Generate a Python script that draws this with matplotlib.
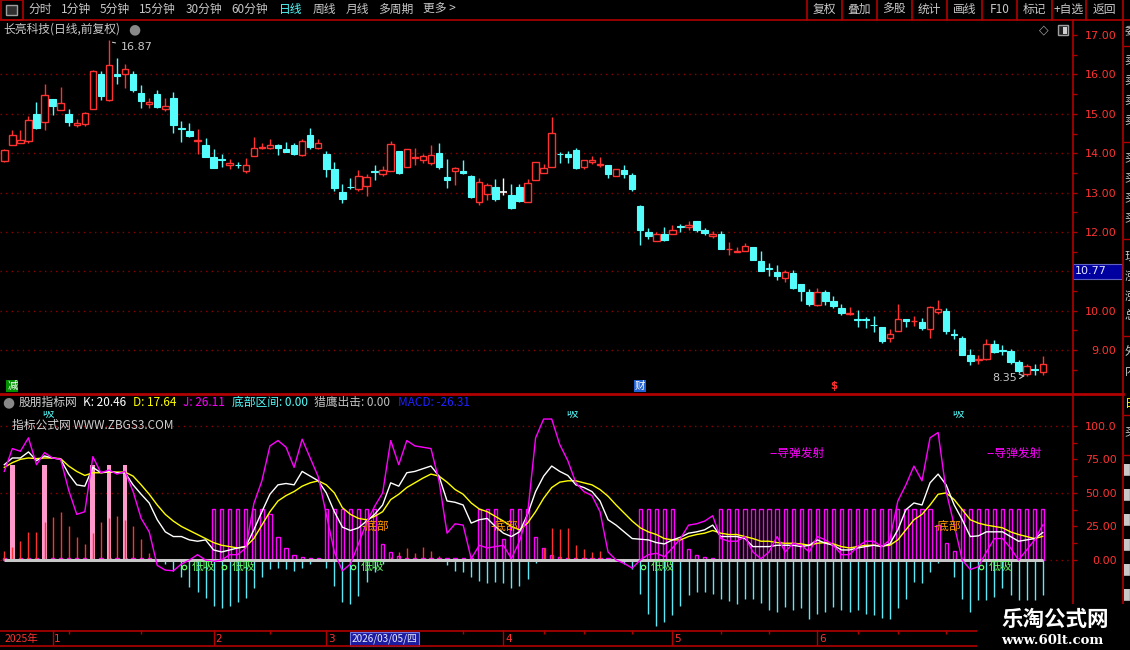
import matplotlib
matplotlib.use('Agg')
import matplotlib.pyplot as plt
from matplotlib.patches import Rectangle
from matplotlib.lines import Line2D

plt.rcParams['font.family'] = ['Noto Sans CJK SC', 'DejaVu Sans']

W, H = 1130, 650
RED = '#FF3232'
LINE_RED = '#B00000'
GRID_RED = '#8C0000'
CYAN = '#54FCFC'
GREY = '#C8C8C8'
MAGENTA = '#FF00FF'

# ---------------- daily candles ----------------
opens = [13.81, 14.22, 14.27, 14.32, 14.99, 14.78, 15.37, 15.09, 14.99, 14.71,
         14.75, 15.13, 16.01, 15.36, 16.02, 16.02, 16.01, 15.52, 15.24, 15.50,
         15.13, 15.40, 14.64, 14.56, 14.30, 14.20, 13.90, 13.86, 13.70, 13.70,
         13.56, 13.94, 14.14, 14.14, 14.20, 14.10, 14.20, 13.96, 14.46, 14.14,
         13.99, 13.59, 13.01, 13.14, 13.09, 13.18, 13.54, 13.46, 13.56, 14.05,
         13.66, 13.89, 13.84, 13.74, 14.01, 13.40, 13.54, 13.55, 13.43, 12.75,
         12.97, 13.14, 13.02, 12.93, 13.14, 12.77, 13.31, 13.51, 13.66, 13.99,
         13.99, 14.08, 13.66, 13.77, 13.71, 13.70, 13.41, 13.57, 13.44, 12.65,
         11.99, 11.78, 11.94, 11.94, 12.14, 12.12, 12.27, 12.06, 11.90, 11.96,
         11.57, 11.48, 11.51, 11.63, 11.27, 11.07, 10.99, 10.84, 10.96, 10.68,
         10.48, 10.15, 10.48, 10.25, 10.07, 9.92, 9.79, 9.79, 9.65, 9.58,
         9.32, 9.49, 9.79, 9.73, 9.71, 9.54, 9.98, 9.99, 9.40, 9.30,
         8.89, 8.76, 8.78, 9.15, 9.00, 8.97, 8.69, 8.39, 8.52, 8.44]
highs = [14.11, 14.59, 14.59, 14.95, 15.30, 15.75, 15.37, 15.68, 15.12, 14.86,
         15.04, 16.11, 16.09, 16.87, 16.42, 16.26, 16.08, 15.73, 15.40, 15.60,
         15.39, 15.55, 14.81, 14.76, 14.61, 14.38, 14.10, 13.99, 13.85, 13.77,
         13.88, 14.41, 14.25, 14.36, 14.23, 14.28, 14.27, 14.36, 14.65, 14.36,
         14.05, 13.77, 13.21, 13.36, 13.58, 13.47, 13.70, 13.68, 14.31, 14.05,
         14.10, 14.14, 13.97, 14.22, 14.27, 13.86, 13.65, 13.83, 13.45, 13.37,
         13.25, 13.35, 13.37, 13.22, 13.22, 13.35, 13.77, 13.73, 14.93, 14.02,
         14.06, 14.13, 13.83, 13.93, 13.91, 13.70, 13.60, 13.71, 13.49, 12.68,
         12.09, 12.01, 12.12, 12.19, 12.21, 12.29, 12.27, 12.11, 12.03, 12.03,
         11.75, 11.63, 11.73, 11.63, 11.52, 11.22, 11.17, 11.03, 11.04, 10.68,
         10.55, 10.58, 10.53, 10.38, 10.17, 10.10, 10.02, 9.85, 9.86, 9.58,
         9.53, 10.17, 9.79, 9.86, 9.81, 10.11, 10.27, 10.06, 9.53, 9.35,
         9.02, 8.87, 9.28, 9.25, 9.12, 9.02, 8.74, 8.64, 8.66, 8.84]
lows = [13.78, 14.22, 14.25, 14.25, 14.62, 14.60, 14.97, 15.09, 14.70, 14.67,
        14.70, 15.11, 15.35, 15.32, 15.76, 15.66, 15.56, 15.15, 15.16, 15.15,
        15.08, 14.52, 14.29, 14.42, 13.99, 13.91, 13.63, 13.65, 13.60, 13.62,
        13.50, 13.94, 14.10, 14.10, 13.95, 14.03, 13.95, 13.93, 14.10, 14.10,
        13.39, 13.04, 12.74, 13.08, 13.04, 12.91, 13.32, 13.43, 13.55, 13.48,
        13.66, 13.71, 13.74, 13.70, 13.61, 13.12, 13.20, 13.46, 12.86, 12.69,
        12.81, 12.79, 12.94, 12.58, 12.76, 12.77, 13.31, 13.51, 13.66, 13.76,
        13.76, 13.61, 13.60, 13.73, 13.66, 13.38, 13.41, 13.38, 13.03, 11.67,
        11.81, 11.78, 11.77, 11.94, 12.00, 12.06, 12.00, 11.92, 11.86, 11.56,
        11.42, 11.48, 11.51, 11.28, 11.02, 10.89, 10.79, 10.74, 10.56, 10.26,
        10.13, 10.13, 10.15, 10.08, 9.90, 9.89, 9.59, 9.57, 9.46, 9.18,
        9.21, 9.49, 9.58, 9.61, 9.52, 9.31, 9.92, 9.40, 9.29, 8.89,
        8.62, 8.65, 8.75, 8.92, 8.89, 8.66, 8.43, 8.35, 8.37, 8.37]
closes = [14.09, 14.47, 14.33, 14.84, 14.64, 15.47, 15.20, 15.27, 14.80, 14.76,
          15.02, 16.09, 15.46, 16.25, 15.97, 16.13, 15.61, 15.33, 15.30, 15.18,
          15.21, 14.72, 14.62, 14.44, 14.33, 13.91, 13.63, 13.84, 13.76, 13.69,
          13.69, 14.14, 14.17, 14.20, 14.14, 14.03, 13.98, 14.30, 14.16, 14.27,
          13.60, 13.12, 12.84, 13.13, 13.43, 13.39, 13.52, 13.57, 14.23, 13.51,
          14.10, 13.91, 13.94, 13.95, 13.66, 13.31, 13.62, 13.50, 12.89, 13.27,
          13.19, 12.85, 13.02, 12.61, 12.79, 13.24, 13.77, 13.62, 14.52, 13.97,
          13.91, 13.63, 13.83, 13.83, 13.73, 13.46, 13.60, 13.46, 13.08, 12.06,
          11.90, 11.96, 11.80, 12.04, 12.12, 12.19, 12.05, 11.97, 11.96, 11.56,
          11.58, 11.52, 11.65, 11.29, 11.02, 11.06, 10.89, 10.99, 10.59, 10.49,
          10.18, 10.48, 10.26, 10.12, 9.95, 9.94, 9.77, 9.77, 9.63, 9.23,
          9.40, 9.79, 9.73, 9.75, 9.56, 10.09, 10.04, 9.49, 9.38, 8.89,
          8.72, 8.78, 9.15, 8.95, 8.99, 8.69, 8.47, 8.61, 8.50, 8.64]

# ---------------- indicator panel ----------------
k_line = [71, 76, 76, 80.5, 74, 77.5, 76, 75, 64, 56,
          55, 69, 65, 66, 65, 65, 56, 49, 42.5, 30,
          21, 17.5, 17.5, 15, 14, 15, 7.5, 6, 7.5, 9,
          10, 22.5, 36, 49, 56, 57, 56, 66, 62.5, 59,
          50, 36, 24.5, 22, 24, 29, 34, 41, 57.5, 55,
          65, 66, 68, 70, 62.5, 44, 43, 41, 27.5, 30,
          31, 25, 20, 17.5, 21, 34, 51, 62.5, 70, 66,
          63, 56, 54, 51, 44, 30, 26, 21, 16, 15.5,
          15, 13, 12, 15, 17, 20, 21, 22.5, 26, 17.5,
          17.5, 17.5, 16, 10, 10, 10, 11, 11, 11, 10,
          11, 15, 12.5, 11, 7.5, 7.5, 9, 10, 11, 10,
          12, 22.5, 37.5, 42.5, 41, 57.5, 64, 56, 41, 30,
          17.5, 18, 21, 21, 21, 17.5, 14, 15, 16, 20.46]
d_line = [69, 72.5, 75, 76, 75.5, 76, 76, 75.5, 70, 66,
          63, 65, 65, 65.5, 65.5, 65.5, 62.5, 56, 49, 41,
          34, 29, 25, 22, 19, 16, 13, 11, 10, 9,
          10, 16, 26, 36, 44, 48, 51, 55, 57.5, 59,
          56, 50, 39, 34, 31, 30, 32.5, 36, 45, 49,
          54, 57.5, 61, 64, 62.5, 58, 52.5, 49, 42.5, 38,
          36, 32.5, 29, 25, 22.5, 27.5, 36, 46, 54, 58,
          59, 59, 57.5, 56, 52.5, 47.5, 41, 35, 29, 24,
          21, 19, 16, 15, 15, 17.5, 19, 20, 22, 20,
          19, 19, 17.5, 16, 14, 14, 13, 12.5, 12.5, 12,
          11, 12.5, 13, 12, 10, 9, 10, 11, 11, 10.5,
          11, 15, 22.5, 30, 34, 41, 49, 50, 45, 37.5,
          30, 27.5, 26, 25, 24, 21, 19, 17.5, 16, 17.64]
j_line = [66, 83, 81, 91, 71, 80, 76, 75, 52, 34,
          36, 77, 65, 67, 64, 66, 51, 31, 21, -4,
          -7.5, -8, -3, 0, 4, 0, -1, 0, 4, 4,
          9, 42, 59, 85, 89, 84, 69, 90, 76, 62,
          34, 6, -8, -3, 12, 28, 40, 50, 89, 71,
          89, 85, 84, 83, 59, 20, 27, 26, 1, 11,
          9, 10, 11, 1, 14, 34, 91, 105, 105, 86,
          74, 57.5, 51, 48, 36, 6, 0, -2.5, -6, 0,
          4, 5, 2.5, 9, 16, 26, 27, 29, 33, 16,
          14, 14, 17.5, 6, 1, 6, 17.5, 6, 12.5, 11,
          6, 17.5, 15, 11, 4, 4, 10, 14, 14, 10,
          15, 44, 56, 70, 59, 91, 95, 51, 26, 0,
          -7, -5, 6, 16, 16, 9, 0, 7.5, 15, 26.11]
macd = [7, 10, 14, 21, 21, 28, 32, 36, 25, 17,
        12, 20, 28.5, 31, 33, 30, 25.5, 16, 5, 0.5,
        -3, -8, -13, -20, -24, -28, -34.5, -36, -34, -31,
        -28, -21, -13, -7, -6, -7, -8, -6, -3, -1,
        -6, -19, -31, -33, -27, -16, -9, -3, 2, 6,
        9, 5, 10, 7, 3, -4, -8, -9, -12.5, -15.5,
        -17, -16, -17, -21, -19, -14, -2, 9, 24, 23,
        24, 11, 8, 6, 7, 1, 0, -3, -7, -25,
        -40, -49, -46, -41, -34, -26, -24, -24, -25, -29,
        -30.5, -32.5, -29, -29, -32, -37.5, -39, -35, -37, -36,
        -44, -40, -39, -35, -37, -39, -37, -40, -41, -43,
        -44, -35.5, -29, -16, -17, -9, -2.5, 0, -13, -29,
        -39, -30, -30, -27.5, -21, -26, -30, -30, -30, -26.31]
zone = [0.8, 0.8, 0.8, 0.8, 0.8, 0.8, 0.8, 0.8, 0.8, 0.8,
        0.8, 0.8, 0.8, 0.8, 0.8, 0.8, 0.8, 0.8, 0.8, 0,
        0, 0, 0, 0, 0, 0, 38, 38, 38, 38,
        38, 38, 38, 34, 17, 9, 4, 2, 1, 0.8,
        38, 38, 38, 38, 38, 38, 38, 12, 6, 3,
        1.5, 0.8, 0.8, 0.8, 0.8, 0.8, 0.8, 0.8, 0.8, 38,
        38, 38, 16, 38, 38, 38, 17, 9, 4, 2,
        1, 0.8, 0.8, 0.8, 0.8, 0.8, 0, 0, 0, 38,
        38, 38, 38, 38, 16, 8, 4, 2, 1, 38,
        38, 38, 38, 38, 38, 38, 38, 38, 38, 38,
        38, 38, 38, 38, 38, 38, 38, 38, 38, 38,
        38, 38, 38, 38, 38, 38, 26, 13, 7, 38,
        38, 38, 38, 38, 38, 38, 38, 38, 38, 38]
pink_idx = [1, 5, 11, 13, 15]
pink_val = [71, 71, 71, 71, 71]
dixi_idx = [22, 27, 43, 79, 121]       # 低吸
dibu_idx = [44, 60, 115]               # 底部
daodan_idx = [95, 122]                 # 导弹发射
xi_idx = [4, 69, 117]                  # 吸

# date axis
month_idx = [6, 26, 40, 62, 83, 101]
month_lbl = ['1', '2', '3', '4', '5', '6']
week_ticks = [8, 17, 33, 48, 57, 67, 72, 78, 89, 95, 106, 111, 117]
cursor_idx = 43

n = len(opens)
X0, DX = 4.3, 8.05          # pixel x of first candle, pixel step
XL = (-X0 / DX, (1072 - X0) / DX)

fig = plt.figure(figsize=(W / 100, H / 100), dpi=100, facecolor='black')


def px_axes(x0, y0, x1, y1):
    a = fig.add_axes([x0 / W, 1 - y1 / H, (x1 - x0) / W, (y1 - y0) / H])
    a.set_facecolor('black')
    for s in a.spines.values():
        s.set_visible(False)
    return a


def ftext(x, y, s, color=GREY, size=8.5, ha='left', va='center', **kw):
    return fig.text(x / W, 1 - y / H, s, color=color, fontsize=size, ha=ha, va=va, **kw)


def hline(y, x0, x1, lw=1.2, color=LINE_RED):
    fig.add_artist(Line2D([x0 / W, x1 / W], [1 - y / H, 1 - y / H], color=color, lw=lw,
                          transform=fig.transFigure))


def vline(x, y0, y1, lw=1.2, color=LINE_RED):
    fig.add_artist(Line2D([x / W, x / W], [1 - y0 / H, 1 - y1 / H], color=color, lw=lw,
                          transform=fig.transFigure))


# ---------------- main price panel ----------------
ax = px_axes(0, 20, 1072, 394)
ax.set_xlim(XL)
ax.set_ylim(7.888, 17.381)
for p in range(9, 17):
    ax.axhline(p, color=GRID_RED, lw=1, ls=(0, (1, 3)))

bw = 0.8
for i in range(n):
    o, h, l, c = opens[i], highs[i], lows[i], closes[i]
    top, bot = max(o, c), min(o, c)
    if c > o:
        ax.vlines(i, top, h, color=RED, lw=1)
        ax.vlines(i, l, bot, color=RED, lw=1)
        ax.add_patch(Rectangle((i - bw / 2, bot), bw, top - bot, facecolor='black',
                               edgecolor=RED, lw=1, zorder=3))
    elif c < o:
        ax.vlines(i, l, h, color=CYAN, lw=1)
        ax.add_patch(Rectangle((i - bw / 2, bot), bw, max(top - bot, 0.02),
                               facecolor=CYAN, edgecolor=CYAN, lw=0.8, zorder=3))
    else:
        ax.vlines(i, l, h, color='white', lw=1)
        ax.hlines(c, i - bw / 2, i + bw / 2, color='white', lw=1.2)

ax.set_xticks([])
ax.yaxis.tick_right()
ax.set_yticks(range(9, 18))
# the 11.00 label sits under the cursor price box
ax.set_yticklabels(['' if v == 11 else f'{v:.2f}' for v in range(9, 18)], family='DejaVu Sans')
ax.set_yticks([v + 0.5 for v in range(8, 17)], minor=True)
ax.tick_params(axis='y', which='both', color=LINE_RED, labelcolor=RED, length=3.5,
               width=1, labelsize=8, pad=28.5)
for lab in ax.get_yticklabels():
    lab.set_horizontalalignment('right')

# high / low marks
hi = highs.index(max(highs))
lo = lows.index(min(lows))
ax.annotate(f'{highs[hi]:.2f}', xy=(hi + 0.1, highs[hi] - 0.04), xytext=(hi + 1.5, highs[hi] - 0.18),
            color=GREY, fontsize=8, va='center', family='DejaVu Sans',
            arrowprops=dict(arrowstyle='-', color=GREY, lw=0.8))
ax.annotate(f'{lows[lo]:.2f}', xy=(lo - 0.2, lows[lo]), xytext=(lo - 4.3, lows[lo] - 0.05),
            color=GREY, fontsize=8, va='center', family='DejaVu Sans',
            arrowprops=dict(arrowstyle='->', color=GREY, lw=0.8))

# event flags along the bottom of the price panel
bx = ax.get_xaxis_transform()
ax.text(1, 0.022, '减', transform=bx, ha='center', va='center', color='white', fontsize=7.5,
        bbox=dict(facecolor='#009000', edgecolor='none', pad=0.6))
ax.text(79, 0.022, '财', transform=bx, ha='center', va='center', color='white', fontsize=7.5,
        bbox=dict(facecolor='#2060D0', edgecolor='none', pad=0.6))
ax.text(103, 0.022, '$', transform=bx, ha='center', va='center', color=RED, fontsize=7.5,
        fontweight='bold', family='DejaVu Sans')

# ---------------- indicator panel ----------------
ax2 = px_axes(0, 395, 1072, 630)
ax2.set_xlim(XL)
ax2.set_ylim(-52.1, 122.9)
for v in (100, 50, 0):
    ax2.axhline(v, color=GRID_RED, lw=1, ls=(0, (1, 3)))

for i, v in enumerate(zone):
    if v > 0:
        ax2.add_patch(Rectangle((i - 0.2, 0), 0.4, max(v, 1.2), fill=False,
                                edgecolor=MAGENTA, lw=1.0, zorder=2))
ax2.bar(pink_idx, pink_val, width=0.6, color='#FF99CC', zorder=2)
ax2.vlines(range(n), 0, macd, colors=[RED if v > 0 else '#5CE8F4' for v in macd], lw=1, zorder=2)
ax2.plot([0, n - 1], [0, 0], color='#C8C8C8', lw=2.2, zorder=3, solid_capstyle='butt')
ax2.plot(range(n), d_line, color='#FFFF00', lw=1, zorder=4)
ax2.plot(range(n), k_line, color='white', lw=1, zorder=5)
ax2.plot(range(n), j_line, color=MAGENTA, lw=1, zorder=6)

for i in dixi_idx:
    ax2.plot(i + 0.35, -5, marker='o', ms=3.2, mfc='none', mec='#66FF66', mew=0.9, zorder=7)
    ax2.text(i + 1.3, -4.5, '低吸', color='#66FF66', fontsize=8.5, va='center', zorder=7)
for i in dibu_idx:
    ax2.text(i + 0.4, 25.3, '-底部', color='#FF9900', fontsize=8.5, va='center', zorder=7)
for i in daodan_idx:
    ax2.text(i, 79.7, '--导弹发射', color=MAGENTA, fontsize=8.5, va='center', zorder=7)
for i in xi_idx:
    ax2.text(i, 109, '° 吸', color=CYAN, fontsize=8.5, va='center', zorder=7)

ax2.set_xticks([])
ax2.yaxis.tick_right()
ax2.set_yticks([0, 25, 50, 75, 100])
ax2.set_yticklabels(['0.00', '25.00', '50.00', '75.00', '100.0'], family='DejaVu Sans')
ax2.set_yticks([12.5, 37.5, 62.5, 87.5], minor=True)
ax2.tick_params(axis='y', which='both', color=LINE_RED, labelcolor=RED, length=3.5,
                width=1, labelsize=8, pad=28.5)
for lab in ax2.get_yticklabels():
    lab.set_horizontalalignment('right')

# header band of the indicator panel hides what runs above it
fig.add_artist(Rectangle((0, 1 - 411 / H), 1072 / W, 16 / H, transform=fig.transFigure,
                         facecolor='black', edgecolor='none', zorder=1))

# ---------------- date axis ----------------
ax3 = px_axes(0, 630, 1072, 646)
ax3.set_xlim(XL)
ax3.set_ylim(0, 1)
ax3.set_xticks([])
ax3.set_yticks([])
for i, lbl in zip(month_idx, month_lbl):
    ax3.axvline(i, color=LINE_RED, lw=1)
    ax3.text(i + 0.2, 0.45, lbl, color=RED, fontsize=7.5, va='center', family='DejaVu Sans')
ax3.vlines(week_ticks, 0.78, 1, color=LINE_RED, lw=1)
ax3.text(0.004, 0.45, '2025年', transform=ax3.transAxes, color=RED, fontsize=7.5, va='center')
ax3.text(cursor_idx + 0.1, 0.45, '2026/03/05/四', color='#E8E8FF', fontsize=7.2, va='center',
         bbox=dict(facecolor='#1C1CA0', edgecolor='#7070E0', lw=0.8, pad=1.2))

# ---------------- frame lines ----------------
hline(19.5, 0, 1130)
hline(394, 0, 1123, lw=2)
hline(630.5, 0, 977)
hline(646, 0, 977)
vline(1072.5, 19.5, 630)
vline(1123.3, 0, 650)
fig.add_artist(Rectangle((0.5 / W, 1 - 19.5 / H), 22.5 / W, 19 / H, transform=fig.transFigure,
                         fill=False, edgecolor=LINE_RED, lw=1.2))
fig.add_artist(Rectangle((6 / W, 1 - 15 / H), 11 / W, 10 / H, transform=fig.transFigure,
                         facecolor='#303030', edgecolor='#A0A0A0', lw=1))
for x in [807.3, 841.7, 876.7, 911.7, 946.7, 981.7, 1016.7, 1051.7, 1086]:
    vline(x, 0, 19.5)

# right-hand info strip (mostly cut off)
ax4 = px_axes(1123.8, 20, 1130, 650)
ax4.set_xlim(0, 1)
ax4.set_ylim(650, 20)
ax4.set_xticks([])
ax4.set_yticks([])
for y in [45.7, 142.5, 239, 336, 415, 455]:
    ax4.axhline(y, color=LINE_RED, lw=1)
for y, ch, col in [(32, '委', GREY), (60, '卖', GREY), (80, '卖', GREY), (100, '卖', GREY),
                   (120, '卖', GREY), (158, '买', GREY), (178, '买', GREY), (198, '买', GREY),
                   (218, '买', GREY), (256, '现', GREY), (276, '涨', GREY), (296, '涨', GREY),
                   (316, '总', GREY), (352, '外', GREY), (372, '内', GREY), (404, '日', '#FFFF00'),
                   (432, '买', GREY), (470, '▌', GREY), (495, '▌', GREY), (520, '▌', GREY),
                   (545, '▌', GREY), (570, '▌', GREY), (595, '▌', GREY)]:
    ax4.text(0.1, y, ch, color=col, fontsize=8.5, va='center', ha='left', clip_on=True)

# ---------------- toolbar ----------------
for x, s in [(28.6, '分时'), (60.7, '1分钟'), (100, '5分钟'), (139, '15分钟'), (186, '30分钟'),
             (231, '60分钟'), (312.5, '周线'), (345.7, '月线'), (378.6, '多周期'), (423, '更多 >')]:
    ftext(x, 9.5, s, color=GREY)
ftext(278.6, 9.5, '日线', color=CYAN)
edges = [807.3, 841.7, 876.7, 911.7, 946.7, 981.7, 1016.7, 1051.7, 1086, 1123.3]
for a, b, s in zip(edges[:-1], edges[1:], ['复权', '叠加', '多股', '统计', '画线', 'F10', '标记', '+自选', '返回']):
    ftext((a + b) / 2, 9.5, s, color=GREY, ha='center')

# ---------------- panel titles ----------------
ftext(3, 29, '长亮科技(日线,前复权)', color=GREY)
ftext(134, 29, '●', color='#888888', size=10, ha='center', family='DejaVu Sans')
ftext(1044, 30, '◇', color='#A0A0A0', size=9, ha='center', family='DejaVu Sans')
fig.add_artist(Rectangle((1058 / W, 1 - 35 / H), 10 / W, 10 / H, transform=fig.transFigure,
                         facecolor='#202020', edgecolor='#A0A0A0', lw=1))
fig.add_artist(Rectangle((1063 / W, 1 - 33.5 / H), 3.5 / W, 7 / H, transform=fig.transFigure,
                         facecolor='#D0D0D0', edgecolor='none'))

# cursor price box on the axis
fig.add_artist(Rectangle((1073 / W, 1 - 279 / H), 49 / W, 15 / H, transform=fig.transFigure,
                         facecolor='#0000A0', edgecolor='#6060C0', lw=0.8))
ftext(1075, 271.5, '10.77', color='#E8E8FF', size=8, family='DejaVu Sans')

ftext(8, 402.5, '●', color='#888888', size=10, ha='center', family='DejaVu Sans')
header = [(18.6, '股朋指标网', '#D0D0D0'), (83, 'K: 20.46', 'white'), (133, 'D: 17.64', '#FFFF00'),
          (183, 'J: 26.11', MAGENTA), (232, '底部区间: 0.00', CYAN), (314, '猎鹰出击: 0.00', '#C0C0C0'),
          (398, 'MACD: -26.31', '#2020FF')]
for x, s, col in header:
    ftext(x, 402.5, s, color=col)
ftext(12.5, 425, '指标公式网 WWW.ZBGS3.COM', color='#D0D0D0')

# ---------------- watermark ----------------
fig.add_artist(Rectangle((977 / W, 0), (W - 977) / W, (650 - 604) / H, transform=fig.transFigure,
                         facecolor='black', edgecolor='none', zorder=2))
ftext(1055, 619, '乐淘公式网', color='white', size=15.5, ha='center', fontweight='bold', zorder=4)
ftext(1052, 640, 'www.60lt.com', color='white', size=9.5, ha='center', fontweight='bold',
      family='DejaVu Serif', zorder=4)

fig.savefig('out.png', dpi=100, facecolor='black')
